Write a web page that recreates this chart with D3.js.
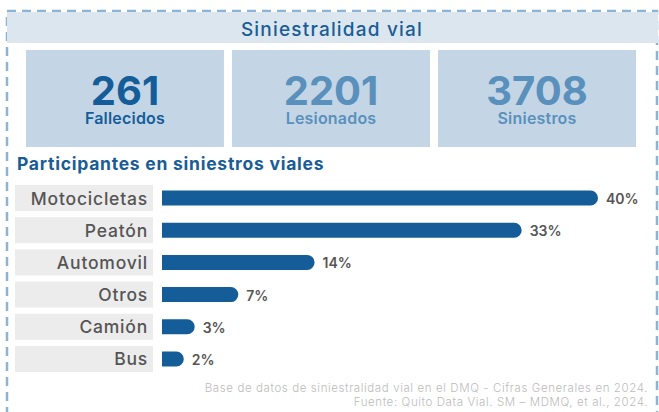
<!DOCTYPE html>
<html lang = 'es'>
<head>
  <title>Siniestralidad vial</title>
  <meta charset = 'utf-8'>
  <script src = 'https://cdn.jsdelivr.net/npm/d3@7'></script>
  <style>
  body { margin: 0; background: #fff; }
  text { font-family: Inter, 'Open Sans', sans-serif; }
  .bar { fill: #155d99; }
  .lbl-box { fill: #ececec; }
  </style>
</head>
<body>
  <script>
// data
var categories = ['Motocicletas', 'Peatón', 'Automovil', 'Otros', 'Camión', 'Bus'];
var shares = [40, 33, 14, 7, 3, 2];
var kpiValues = ['261', '2201', '3708'];
var kpiLabels = ['Fallecidos', 'Lesionados', 'Siniestros'];

var width = 659;
var height = 412;

var svg = d3.select('body')
  .append('svg')
  .attr('width', width)
  .attr('height', height);

// dashed frame, bottom side runs off the picture
svg.append('rect')
  .attr('x', 7).attr('y', 11)
  .attr('width', 650).attr('height', 430)
  .attr('fill', 'none')
  .attr('stroke', '#8db3d5')
  .attr('stroke-width', 2.5)
  .attr('stroke-dasharray', '9,6');

// title band
svg.append('rect')
  .attr('x', 7).attr('y', 12)
  .attr('width', 651).attr('height', 31)
  .attr('fill', '#dce6ef');

svg.append('text')
  .attr('x', 332).attr('y', 36)
  .attr('text-anchor', 'middle')
  .attr('font-size', 19)
  .attr('font-weight', 500)
  .attr('letter-spacing', 1.2)
  .attr('fill', '#1a5d96')
  .text('Siniestralidad vial');

// three number boxes
var kx = d3.scaleBand()
  .domain(kpiLabels)
  .range([26, 636])
  .paddingInner(0.039);

var kpi = svg.selectAll('.kpi')
  .data(kpiLabels)
  .enter()
  .append('g')
  .attr('class', 'kpi')
  .attr('transform', function(d) { return 'translate(' + kx(d) + ',50)'; });

kpi.append('rect')
  .attr('width', kx.bandwidth())
  .attr('height', 97)
  .attr('fill', '#c4d6e6');

kpi.append('text')
  .attr('x', kx.bandwidth() / 2)
  .attr('y', 55)
  .attr('text-anchor', 'middle')
  .attr('font-size', 40)
  .attr('font-weight', 700)
  .attr('fill', function(d, i) { return i == 0 ? '#155d99' : '#5a90bc'; })
  .text(function(d, i) { return kpiValues[i]; });

kpi.append('text')
  .attr('x', kx.bandwidth() / 2)
  .attr('y', 74)
  .attr('text-anchor', 'middle')
  .attr('font-size', 16)
  .attr('font-weight', 600)
  .attr('letter-spacing', 0.2)
  .attr('fill', function(d, i) { return i == 0 ? '#155d99' : '#5a90bc'; })
  .text(function(d) { return d; });

// section heading
svg.append('text')
  .attr('x', 17).attr('y', 170)
  .attr('font-size', 17.5)
  .attr('font-weight', 700)
  .attr('letter-spacing', 0.75)
  .attr('fill', '#1a5d96')
  .text('Participantes en siniestros viales');

// bar chart
var y = d3.scaleBand()
  .domain(categories)
  .range([185, 372])
  .paddingInner(0.19);

var x = d3.scaleLinear()
  .domain([0, 40])
  .range([162, 598]);

var rows = svg.selectAll('.row')
  .data(categories)
  .enter()
  .append('g')
  .attr('class', 'row')
  .attr('transform', function(d) { return 'translate(0,' + y(d) + ')'; });

rows.append('rect')
  .attr('class', 'lbl-box')
  .attr('x', 15)
  .attr('width', 138)
  .attr('height', y.bandwidth());

rows.append('text')
  .attr('x', 148)
  .attr('y', y.bandwidth() / 2 + 6.5)
  .attr('text-anchor', 'end')
  .attr('font-size', 17.5)
  .attr('font-weight', 500)
  .attr('letter-spacing', 0.8)
  .attr('fill', '#555')
  .text(function(d) { return d; });

// bars with the right end rounded
var bh = 15;
rows.append('path')
  .attr('class', 'bar')
  .attr('d', function(d, i) {
    var x0 = x(0), x1 = Math.max(x(shares[i]), x0 + bh), r = bh / 2;
    var top = (y.bandwidth() - bh) / 2;
    return 'M' + x0 + ',' + top + 'H' + (x1 - r) +
      'A' + r + ',' + r + ' 0 0 1 ' + (x1 - r) + ',' + (top + bh) +
      'H' + x0 + 'Z';
  });

rows.append('text')
  .attr('x', function(d, i) { return Math.max(x(shares[i]), x(0) + bh) + 8; })
  .attr('y', y.bandwidth() / 2 + 6)
  .attr('font-size', 14)
  .attr('font-weight', 600)
  .attr('fill', '#555')
  .text(function(d, i) { return shares[i] + '%'; });

// source note
var notes = ['Base de datos de siniestralidad vial en el DMQ - Cifras Generales en 2024.',
  'Fuente: Quito Data Vial. SM – MDMQ, et al., 2024.'];

svg.selectAll('.note')
  .data(notes)
  .enter()
  .append('text')
  .attr('class', 'note')
  .attr('x', 648)
  .attr('y', function(d, i) { return 392 + i * 14; })
  .attr('text-anchor', 'end')
  .attr('font-size', 11.5)
  .attr('font-weight', 300)
  .attr('letter-spacing', 0.6)
  .attr('fill', '#bcbcbc')
  .text(function(d) { return d; });
  </script>
</body>
</html>
